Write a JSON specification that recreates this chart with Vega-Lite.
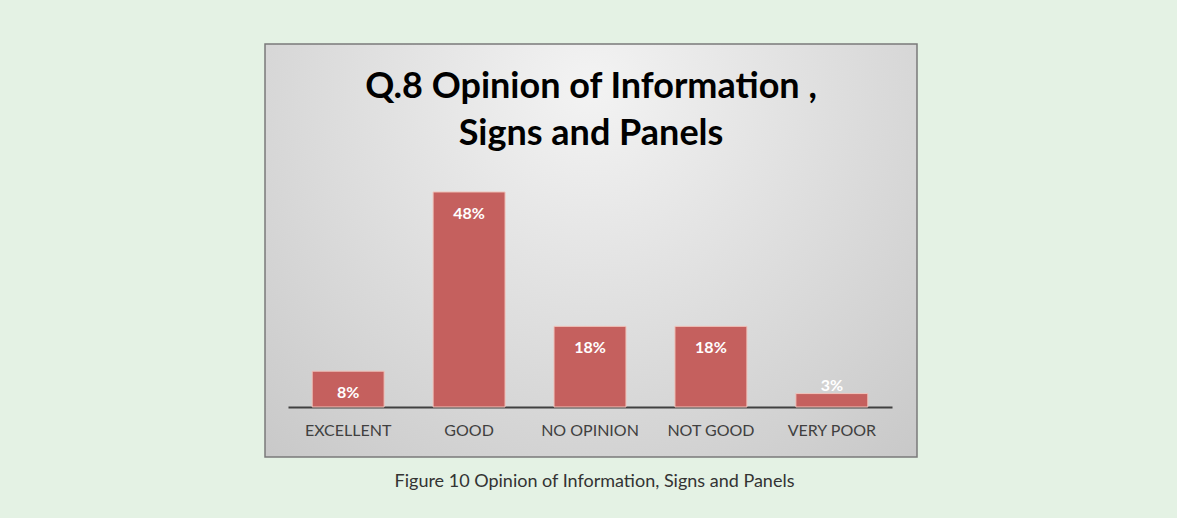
{
  "$schema": "https://vega.github.io/schema/vega-lite/v6.json",
  "width": 652,
  "height": 413,
  "autosize": {"type": "none"},
  "padding": {"left": 265, "top": 44, "right": 260, "bottom": 61},
  "background": "#e4f2e4",
  "config": {
    "view": {
      "fill": {
        "gradient": "radial",
        "x1": 0.5, "y1": 0.25, "r1": 0,
        "x2": 0.5, "y2": 0.25, "r2": 0.8,
        "stops": [
          {"offset": 0, "color": "#f3f3f3"},
          {"offset": 1, "color": "#c6c6c6"}
        ]
      },
      "stroke": "#7a7a7a",
      "strokeWidth": 1.5
    }
  },
  "title": {
    "text": ["Q.8 Opinion of Information ,", "Signs and Panels"],
    "font": "Lato",
    "fontSize": 36,
    "fontWeight": "bold",
    "color": "#000000",
    "lineHeight": 47,
    "offset": -109,
    "anchor": "middle"
  },
  "data": {
    "values": [
      {"category": "EXCELLENT", "value": 8, "label": "8%"},
      {"category": "GOOD", "value": 48, "label": "48%"},
      {"category": "NO OPINION", "value": 18, "label": "18%"},
      {"category": "NOT GOOD", "value": 18, "label": "18%"},
      {"category": "VERY POOR", "value": 3, "label": "3%"}
    ]
  },
  "encoding": {
    "x": {
      "field": "category",
      "type": "nominal",
      "sort": null,
      "scale": {"range": [23, 627], "paddingInner": 0.405, "paddingOuter": 0.2},
      "axis": {
        "orient": "bottom",
        "offset": -50,
        "domainColor": "#404040",
        "domainWidth": 2,
        "ticks": false,
        "grid": false,
        "labelAngle": 0,
        "labelFont": "Lato",
        "labelFontSize": 16,
        "labelColor": "#404040",
        "labelPadding": 15,
        "title": "Figure 10 Opinion of Information, Signs and Panels",
        "titleFont": "Lato",
        "titleFontSize": 18,
        "titleFontWeight": "normal",
        "titleColor": "#333333",
        "titleX": 329,
        "titleY": 79,
        "titleBaseline": "alphabetic"
      }
    },
    "y": {
      "field": "value",
      "type": "quantitative",
      "scale": {"domain": [-11.16, 81.03], "nice": false, "zero": false},
      "axis": null
    }
  },
  "layer": [
    {
      "mark": {"type": "bar", "color": "#c5605e", "stroke": "#f0c4bc", "strokeWidth": 1},
      "encoding": {"y2": {"datum": 0}}
    },
    {
      "transform": [{"filter": "datum.value >= 5"}],
      "mark": {"type": "text", "color": "#ffffff", "font": "Lato", "fontWeight": "bold", "fontSize": 16, "baseline": "middle", "dy": 22},
      "encoding": {"text": {"field": "label"}}
    },
    {
      "transform": [{"filter": "datum.value < 5"}],
      "mark": {"type": "text", "color": "#ffffff", "font": "Lato", "fontWeight": "bold", "fontSize": 16, "baseline": "middle", "dy": -8},
      "encoding": {"text": {"field": "label"}}
    }
  ]
}
